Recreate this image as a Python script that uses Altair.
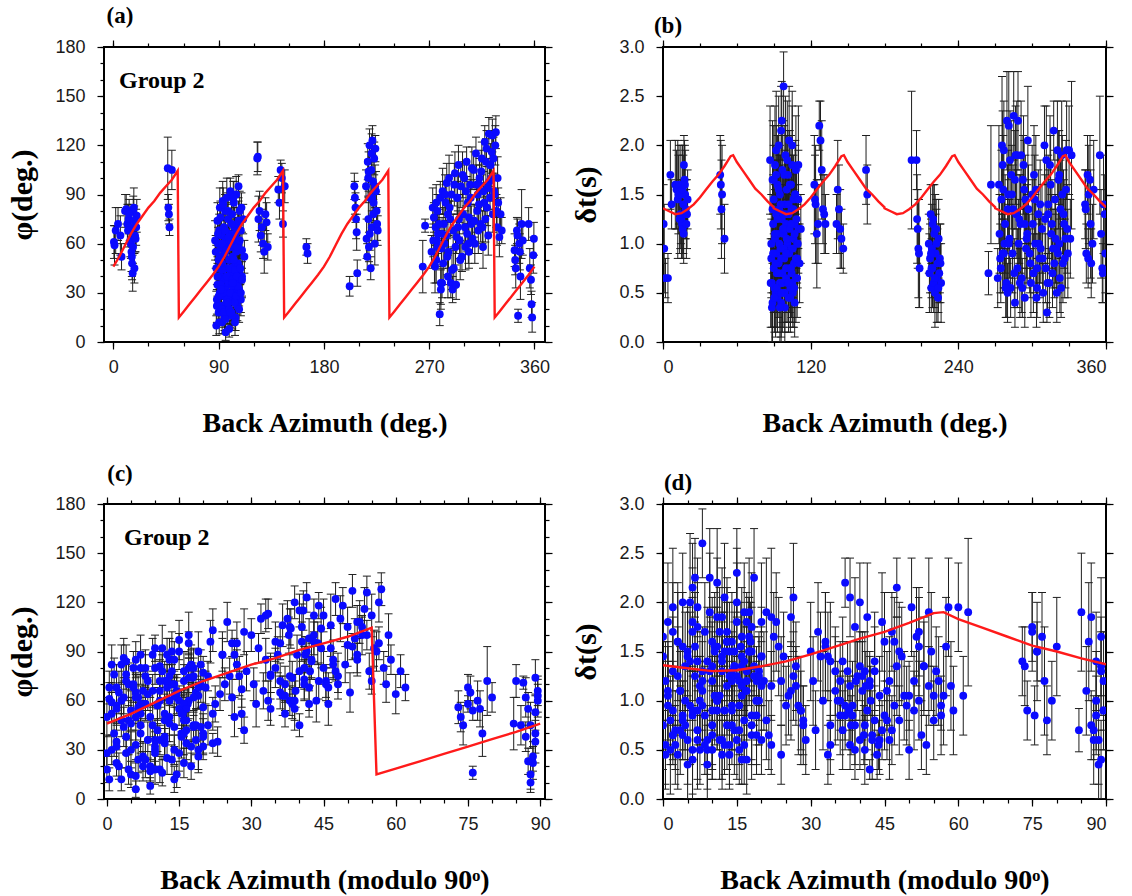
import altair as alt
import pandas as pd

# ---------------- measurements read from the figure ----------------
# back azimuth (deg), fast direction phi (deg) +/- error, delay time dt (s) +/- error
back_azimuth = [
    # 0-20
    0.5, 1, 2, 4, 6, 7, 10, 11, 12, 13,
    14, 14.5, 15, 15.5, 16, 16.5, 17, 17.5, 18, 18.5,
    19, 20, 12.5, 13.5, 15.8, 16.8, 17.8, 19.5,
    # 46-50
    46.5, 47, 47.5, 48, 50,
    # 87-112
    87, 87.5, 88, 88, 88.5, 89, 89, 89.5, 90, 90,
    90.5, 91, 91, 91.5, 92, 92, 92.5, 93, 93, 93.5,
    94, 94, 94.5, 95, 95, 95.5, 96, 96, 96.5, 97,
    97, 97.5, 98, 98, 98.5, 99, 99, 99.5, 100, 100,
    100.5, 101, 101, 101.5, 102, 102, 102.5, 103, 103, 103.5,
    104, 104, 104.5, 105, 105, 105.5, 106, 106, 106.5, 107,
    107, 107.5, 108, 108, 109, 109, 110, 110, 111, 112,
    88.5, 89, 89.5, 90, 90.5, 91, 91.5, 92, 92.5, 93,
    93.5, 94, 94.5, 95, 95.5, 96, 96.5, 97, 97.5, 98,
    98.5, 99, 99.5, 100, 100.5, 101, 101.5, 102, 102.5, 103,
    103.5, 104, 104.5, 105, 105.5, 106, 106.5, 107, 107.5, 108,
    108.5, 109, 109.5, 110, 104, 96, 92, 100, 98, 102,
    # 123-132
    123, 123.5, 124, 125, 126, 127, 128, 129, 130, 131,
    132,
    # 141-147
    141, 142, 143, 144, 145, 146.5,
    # 165
    165, 166,
    # 202-209
    202, 206, 206.5, 207, 207.5, 208, 208.5,
    # 216-226
    216, 216.5, 217, 217.5, 218, 218.5, 219, 219.5, 220, 220.5,
    221, 221.5, 222, 222.5, 223, 223.5, 224, 224.5, 225, 226,
    217.8, 219.2, 220.8, 222.2, 223.8, 225.5, 221.2, 218.2,
    # 264-267
    264.5, 266.5,
    # 272-332
    272, 273, 274, 275, 275.5, 276, 276.5, 277, 277.5, 278,
    279, 279.5, 280, 280.5, 281, 281.5, 282, 282.5, 283, 284,
    284.5, 285, 286, 286.5, 287, 288, 288.5, 289, 290, 290.5,
    291, 292, 292.5, 293, 294, 294.5, 295, 296, 297, 298,
    299, 300, 301, 302, 302.5, 303, 304, 305, 306, 307,
    308, 309, 310, 311, 311.5, 312, 313, 314, 315, 316,
    317, 317.5, 318, 319, 320, 320.5, 321, 322, 322.5, 323,
    324, 324.5, 325, 326, 327, 328, 329, 330, 331, 332,
    273.5, 274.5, 276, 278.5, 280, 281, 283.5, 285.5, 287.5, 289.5,
    291.5, 293.5, 295.5, 296.5, 298.5, 300.5, 301.5, 303.5, 305.5, 306.5,
    308.5, 310.5, 312.5, 314.5, 315.5, 316.5, 318.5, 319.5, 321.5, 323.5,
    325.5, 326.5, 327.5, 328.5, 277, 286, 294, 304, 313, 322,
    # 343-360
    343, 343.5, 344, 345, 345.5, 346, 347, 347.5, 348, 349,
    350, 355, 356, 357, 357.5, 358, 359, 359.5,
]

phi_deg = [
    61, 59, 68, 72, 65, 52, 80, 81, 72, 75,
    70, 62, 60, 55, 48, 42, 80, 82, 45, 65,
    63, 77, 68, 78, 52, 58, 74, 70,
    106, 82, 78, 70, 105,
    62, 55, 10, 45, 26, 74, 35, 60, 18, 50,
    68, 30, 82, 40, 22, 57, 65, 12, 48, 86,
    28, 38, 70, 15, 54, 80, 33, 62, 24, 45,
    88, 20, 58, 75, 36, 8, 50, 66, 28, 92,
    42, 18, 60, 78, 34, 52, 25, 85, 46, 70,
    30, 63, 15, 55, 90, 38, 72, 22, 48, 95,
    60, 32, 80, 44, 68, 26, 56, 40, 75, 52,
    22, 40, 66, 28, 12, 52, 76, 35, 20, 60,
    44, 84, 18, 30, 68, 14, 56, 40, 26, 80,
    64, 20, 45, 30, 58, 72, 16, 38, 88, 50,
    24, 44, 66, 28, 40, 58, 34, 74, 20, 62,
    45, 30, 82, 38, 12, 6, 32, 18, 24, 36,
    112, 113, 75, 80, 65, 70, 60, 55, 78, 73,
    58,
    93, 85, 105, 100, 72, 95,
    58, 54,
    34, 95, 88, 82, 75, 67, 42,
    95, 63, 52, 110, 75, 58, 120, 88, 45, 105,
    70, 123, 98, 85, 112, 60, 118, 92, 80, 68,
    100, 66, 115, 78, 95, 72, 88, 104,
    46, 71,
    55, 82, 76, 46, 70, 50, 62, 80, 66, 58,
    17, 88, 32, 57, 36, 92, 48, 72, 60, 85,
    65, 97, 40, 55, 100, 75, 36, 90, 32, 68,
    45, 103, 58, 35, 88, 70, 108, 62, 95, 52,
    78, 100, 58, 110, 66, 85, 55, 96, 72, 63,
    105, 60, 115, 80, 90, 68, 100, 72, 112, 58,
    85, 122, 75, 118, 94, 65, 127, 88, 108, 100,
    126, 78, 112, 90, 128, 70, 85, 64, 78, 68,
    62, 48, 85, 72, 36, 66, 90, 52, 82, 44,
    96, 64, 75, 50, 102, 70, 92, 60, 88, 106,
    74, 96, 84, 104, 70, 92, 110, 82, 98, 116,
    92, 120, 80, 100, 58, 78, 88, 76, 96, 108,
    56, 50, 45, 68, 65, 16, 60, 55, 40, 72,
    62, 72, 45, 38, 23, 15, 53, 63,
]

phi_err = [
    10, 12, 14, 10, 12, 8, 10, 9, 12, 9,
    8, 10, 9, 12, 10, 11, 9, 12, 9, 10,
    8, 10, 10, 9, 12, 10, 9, 11,
    19, 8, 6, 5, 12,
    12, 10, 6, 14, 9, 11, 13, 10, 8, 12,
    10, 9, 12, 14, 8, 11, 13, 7, 10, 12,
    9, 11, 13, 8, 12, 10, 9, 14, 8, 11,
    12, 9, 10, 13, 11, 5, 12, 10, 9, 8,
    13, 8, 11, 10, 9, 12, 10, 13, 11, 12,
    9, 12, 8, 10, 11, 13, 10, 9, 12, 7,
    11, 10, 12, 9, 13, 10, 11, 12, 9, 10,
    10, 12, 9, 11, 7, 13, 10, 12, 8, 11,
    12, 10, 9, 11, 13, 8, 10, 12, 9, 11,
    10, 9, 12, 11, 10, 13, 8, 12, 10, 11,
    9, 12, 10, 11, 13, 9, 10, 12, 8, 11,
    10, 12, 9, 11, 8, 5, 10, 9, 11, 12,
    10, 9, 14, 12, 10, 11, 9, 13, 10, 12,
    8,
    8, 10, 6, 9, 8, 10,
    5, 6,
    6, 8, 10, 9, 12, 11, 8,
    10, 12, 8, 11, 13, 9, 10, 12, 7, 14,
    10, 9, 12, 11, 10, 13, 8, 12, 10, 9,
    11, 10, 12, 9, 13, 10, 11, 12,
    16, 4,
    10, 12, 9, 16, 11, 14, 13, 10, 12, 9,
    7, 10, 12, 11, 9, 14, 13, 10, 12, 11,
    9, 12, 13, 10, 14, 11, 9, 12, 8, 10,
    12, 13, 11, 9, 14, 10, 12, 11, 13, 9,
    12, 10, 14, 9, 11, 13, 10, 12, 11, 9,
    11, 12, 10, 13, 9, 14, 12, 11, 10, 13,
    12, 10, 14, 11, 13, 12, 10, 11, 13, 12,
    10, 11, 13, 12, 10, 11, 9, 12, 10, 8,
    10, 12, 11, 9, 13, 10, 12, 11, 9, 12,
    13, 10, 11, 12, 14, 10, 9, 12, 11, 13,
    10, 12, 11, 13, 10, 12, 14, 11, 12, 13,
    11, 12, 10, 13, 11, 12, 10, 11, 12, 10,
    10, 9, 12, 8, 10, 4, 12, 11, 14, 21,
    9, 10, 12, 9, 8, 9, 11, 10,
]

delay_s = [
    1.2, 0.95, 0.65, 0.65, 1.7, 1.4, 1.6, 1.55, 1.45, 1.6,
    1.3, 1.5, 1.25, 1.2, 1.15, 1.4, 1.8, 1.65, 1.5, 1.35,
    1.2, 1.45, 1.5, 1.25, 1.55, 1.1, 1.6, 1.3,
    1.7, 1.6, 1.35, 1.5, 1.05,
    1.85, 0.6, 1.0, 0.85, 0.35, 1.65, 0.4, 1.2, 0.75, 1.45,
    0.55, 1.05, 1.8, 0.5, 0.9, 1.3, 0.7, 1.6, 0.45, 1.1,
    2.0, 0.8, 1.35, 0.6, 1.5, 0.95, 2.15, 0.4, 1.25, 0.7,
    1.75, 0.5, 1.1, 2.6, 0.85, 1.4, 0.35, 1.9, 0.65, 1.2,
    1.55, 0.9, 1.0, 1.7, 0.45, 1.3, 2.05, 0.75, 1.15, 0.55,
    1.6, 0.95, 1.35, 0.6, 1.8, 0.5, 1.05, 1.45, 0.8, 1.2,
    0.4, 1.5, 0.65, 1.75, 1.0, 0.85, 1.8, 1.15, 0.8, 1.15,
    0.6, 1.35, 0.9, 1.65, 0.45, 1.1, 0.8, 1.95, 0.55, 1.25,
    0.7, 1.55, 1.0, 0.35, 1.4, 0.85, 2.25, 0.6, 1.15, 0.95,
    1.7, 0.5, 1.3, 0.75, 1.05, 1.85, 0.6, 1.4, 0.9, 1.6,
    0.45, 1.2, 0.7, 2.0, 0.95, 1.35, 0.55, 1.1, 1.5, 0.85,
    1.25, 0.65, 1.0, 1.45, 0.75, 0.5, 1.7, 0.9, 1.3, 0.6,
    1.6, 1.45, 1.4, 1.1, 1.2, 2.2, 2.05, 1.75, 1.35, 1.3,
    1.2,
    1.2, 1.55, 1.35, 1.15, 1.05, 0.95,
    1.75, 1.5,
    1.85, 1.85, 1.25, 1.15, 0.95, 0.9, 0.75,
    1.0, 0.7, 0.85, 1.3, 0.55, 0.95, 0.75, 1.25, 0.6, 1.1,
    0.5, 0.9, 1.15, 0.65, 0.8, 0.45, 1.05, 0.7, 0.85, 0.6,
    0.9, 1.2, 0.65, 1.0, 0.55, 0.8, 1.15, 0.75,
    0.7, 1.6,
    0.65, 1.6, 0.85, 1.45, 2.0, 0.9, 1.55, 1.95, 1.0, 1.2,
    0.6, 2.25, 0.5, 1.5, 2.2, 1.05, 1.85, 0.55, 1.7, 0.9,
    1.35, 2.3, 0.4, 1.9, 1.3, 0.75, 2.25, 1.0, 0.6, 1.2,
    1.9, 0.55, 1.65, 1.8, 0.45, 1.45, 0.95, 1.1, 1.35, 0.9,
    0.6, 1.5, 0.7, 1.45, 1.0, 1.55, 0.55, 1.3, 0.85, 0.95,
    1.15, 0.5, 2.0, 0.75, 1.85, 0.3, 1.4, 0.6, 1.6, 1.2,
    0.95, 2.15, 0.8, 1.05, 0.5, 1.95, 0.9, 1.7, 0.65, 1.35,
    1.9, 1.5, 0.8, 1.2, 1.05, 1.95, 0.9, 1.95, 1.05, 1.9,
    1.1, 0.75, 1.8, 0.55, 1.35, 1.0, 1.5, 0.7, 1.9, 1.25,
    0.65, 1.55, 1.05, 2.05, 0.8, 1.2, 1.7, 0.45, 1.0, 1.4,
    0.85, 1.25, 0.6, 1.8, 1.1, 0.7, 1.45, 0.95, 1.65, 0.55,
    1.3, 0.85, 1.55, 1.15, 0.9, 1.65, 1.2, 0.75, 1.3, 1.0,
    1.4, 1.35, 0.9, 1.7, 0.85, 1.5, 1.65, 1.2, 0.8, 1.0,
    1.55, 1.9, 1.1, 0.75, 0.7, 1.4, 1.3, 0.9,
]

delay_err = [
    0.4, 0.45, 0.2, 0.25, 0.35, 0.25, 0.45, 0.4, 0.6, 0.4,
    0.35, 0.5, 0.4, 0.3, 0.3, 0.5, 0.3, 0.4, 0.45, 0.3,
    0.35, 0.3, 0.4, 0.35, 0.45, 0.3, 0.4, 0.35,
    0.4, 0.45, 0.5, 0.5, 0.35,
    0.55, 0.45, 0.5, 0.4, 0.35, 0.6, 0.4, 0.5, 0.45, 0.55,
    0.4, 0.5, 0.6, 0.45, 0.5, 0.55, 0.4, 0.5, 0.35, 0.45,
    0.5, 0.4, 0.55, 0.45, 0.5, 0.6, 0.45, 0.4, 0.55, 0.5,
    0.45, 0.35, 0.5, 0.35, 0.5, 0.55, 0.4, 0.6, 0.45, 0.5,
    0.55, 0.4, 0.5, 0.45, 0.35, 0.5, 0.55, 0.45, 0.5, 0.4,
    0.5, 0.45, 0.55, 0.4, 0.6, 0.35, 0.5, 0.45, 0.4, 0.55,
    0.35, 0.5, 0.45, 0.55, 0.4, 0.5, 0.6, 0.45, 0.4, 0.35,
    0.45, 0.5, 0.4, 0.55, 0.35, 0.5, 0.45, 0.6, 0.4, 0.5,
    0.45, 0.55, 0.5, 0.35, 0.5, 0.45, 0.4, 0.5, 0.55, 0.45,
    0.5, 0.4, 0.55, 0.45, 0.5, 0.6, 0.4, 0.5, 0.45, 0.55,
    0.35, 0.5, 0.45, 0.55, 0.5, 0.45, 0.4, 0.5, 0.55, 0.45,
    0.5, 0.4, 0.45, 0.5, 0.4, 0.45, 0.5, 0.55, 0.45, 0.4,
    0.5, 0.45, 0.6, 0.55, 0.4, 0.25, 0.4, 0.5, 0.35, 0.4,
    0.3,
    0.3, 0.5, 0.45, 0.4, 0.3, 0.25,
    0.35, 0.3,
    0.7, 0.3, 0.45, 0.4, 0.5, 0.55, 0.4,
    0.3, 0.4, 0.35, 0.3, 0.25, 0.45, 0.4, 0.35, 0.3, 0.5,
    0.35, 0.4, 0.3, 0.45, 0.35, 0.25, 0.4, 0.3, 0.35, 0.4,
    0.35, 0.4, 0.3, 0.35, 0.25, 0.4, 0.35, 0.3,
    0.22, 0.6,
    0.3, 0.6, 0.35, 0.5, 0.7, 0.4, 0.55, 0.5, 0.45, 0.5,
    0.35, 0.5, 0.3, 0.45, 0.55, 0.4, 0.5, 0.3, 0.55, 0.4,
    0.45, 0.45, 0.25, 0.5, 0.45, 0.4, 0.5, 0.45, 0.35, 0.5,
    0.55, 0.3, 0.45, 0.5, 0.3, 0.45, 0.4, 0.5, 0.45, 0.4,
    0.35, 0.5, 0.4, 0.45, 0.5, 0.55, 0.3, 0.45, 0.4, 0.35,
    0.45, 0.3, 0.4, 0.35, 0.55, 0.1, 0.5, 0.35, 0.5, 0.45,
    0.4, 0.3, 0.35, 0.45, 0.3, 0.5, 0.4, 0.45, 0.35, 0.5,
    0.55, 0.6, 0.4, 0.45, 0.5, 0.5, 0.45, 0.45, 0.4, 0.75,
    0.4, 0.35, 0.55, 0.3, 0.45, 0.4, 0.5, 0.35, 0.55, 0.45,
    0.35, 0.5, 0.4, 0.55, 0.35, 0.45, 0.5, 0.3, 0.4, 0.45,
    0.35, 0.45, 0.3, 0.5, 0.4, 0.35, 0.5, 0.4, 0.5, 0.3,
    0.45, 0.4, 0.5, 0.45, 0.35, 0.5, 0.45, 0.35, 0.45, 0.4,
    0.35, 0.4, 0.3, 0.4, 0.3, 0.5, 0.45, 0.55, 0.35, 0.4,
    0.5, 0.6, 0.45, 0.35, 0.3, 0.5, 0.4, 0.4,
]

# two-layer model prediction over one 90-degree period
model_baz_phi = [0, 5, 10, 15, 20, 25, 30, 35, 40, 45, 50, 55, 56, 60, 65, 70, 75, 80, 85, 90]
model_phi = [46, 52, 59, 66, 72, 77, 82, 86, 91, 95, 99, 104.5, 15, 18.5, 23, 27.5, 32, 36.5, 41, 46]
model_baz_dt = [0, 5, 10, 15, 20, 25, 30, 35, 40, 45, 50, 55, 57, 60, 65, 70, 75, 80, 85, 90]
model_dt = [1.36, 1.33, 1.30, 1.31, 1.35, 1.40, 1.47, 1.55, 1.63, 1.70, 1.79, 1.89, 1.90, 1.83, 1.74, 1.65, 1.56, 1.50, 1.43, 1.37]
period_offsets = [0, 90, 180, 270]

n = len(back_azimuth)
assert all(len(a) == n for a in (phi_deg, phi_err, delay_s, delay_err))

df = pd.DataFrame({
    "baz": back_azimuth, "phi": phi_deg, "phi_err": phi_err,
    "dt": delay_s, "dt_err": delay_err,
})
df["bmod"] = df["baz"] % 90

phi_one = pd.DataFrame({"x": model_baz_phi, "y": model_phi})
dt_one = pd.DataFrame({"x": model_baz_dt, "y": model_dt})
phi_full = pd.concat([phi_one.assign(x=phi_one.x + o) for o in period_offsets], ignore_index=True)
dt_full = pd.concat([dt_one.assign(x=dt_one.x + o) for o in period_offsets], ignore_index=True)

SERIF = "Liberation Serif"
SANS = "Liberation Sans"
MAJ, MINL = 7, 4
BAR = "#1e1e1e"


def ax(**kw):
    base = dict(grid=False, domain=False, tickColor="black", tickWidth=1.2,
                labelFont=SANS, labelFontSize=18, labelColor="#1a1a1a",
                titleFont=SERIF, titleFontWeight="bold", titleColor="black",
                labelOverlap=False)
    base.update(kw)
    return alt.Axis(**base)


def panel(tag, xf, yf, ef, xdom, ydom, xmaj, xmin, ymaj, ymin, yfmt, xtitle, ytitle,
          model, w, h, tag_pos, ytp, group=None):
    xs = alt.Scale(domain=xdom, nice=False, zero=False)
    ys = alt.Scale(domain=ydom, nice=False, zero=False)
    calc = alt.Chart(df).transform_calculate(
        lo=f"datum.{yf} - datum.{ef}", hi=f"datum.{yf} + datum.{ef}")

    ax_b = ax(orient="bottom", values=xmaj, tickSize=MAJ, labelPadding=9,
              format="d", title=xtitle, titlePadding=33, titleFontSize=28)
    ax_bm = ax(orient="bottom", values=xmin, tickSize=MINL, labels=False, title=None)
    ax_t = ax(orient="top", values=xmaj, tickSize=MAJ, labels=False, title=None)
    ax_tm = ax(orient="top", values=xmin, tickSize=MINL, labels=False, title=None)
    ax_l = ax(orient="left", values=ymaj, tickSize=MAJ, labelPadding=12,
              format=yfmt, title=ytitle, titlePadding=ytp, titleFontSize=30)
    ax_lm = ax(orient="left", values=ymin, tickSize=MINL, labels=False, title=None)
    ax_r = ax(orient="right", values=ymaj, tickSize=MAJ, labels=False, title=None)
    ax_rm = ax(orient="right", values=ymin, tickSize=MINL, labels=False, title=None)

    bars = calc.mark_rule(color=BAR, strokeWidth=1, clip=True).encode(
        x=alt.X(f"{xf}:Q", scale=xs, axis=ax_b),
        y=alt.Y("lo:Q", scale=ys, axis=ax_l),
        y2="hi:Q",
    )
    cap_lo = calc.mark_tick(orient="horizontal", size=8, thickness=1, color=BAR,
                            opacity=1, clip=True).encode(
        x=alt.X(f"{xf}:Q", scale=xs, axis=ax_bm),
        y=alt.Y("lo:Q", scale=ys, axis=ax_lm),
    )
    cap_hi = calc.mark_tick(orient="horizontal", size=8, thickness=1, color=BAR,
                            opacity=1, clip=True).encode(
        x=alt.X(f"{xf}:Q", scale=xs, axis=ax_t),
        y=alt.Y("hi:Q", scale=ys, axis=ax_r),
    )
    pts = alt.Chart(df).mark_circle(size=62, color="#0a0aff", opacity=1, clip=True).encode(
        x=alt.X(f"{xf}:Q", scale=xs, axis=ax_tm),
        y=alt.Y(f"{yf}:Q", scale=ys, axis=ax_rm),
    )
    line = alt.Chart(model).mark_line(color="#ff1a1a", strokeWidth=2.4, clip=True).encode(
        x=alt.X("x:Q", scale=xs, axis=None),
        y=alt.Y("y:Q", scale=ys, axis=None),
        order="x:Q",
    )
    lab = alt.Chart(pd.DataFrame({"t": [tag]})).mark_text(
        font=SERIF, fontWeight="bold", fontSize=23, color="black", align="center",
        baseline="middle").encode(
        x=alt.value(tag_pos[0]), y=alt.value(tag_pos[1]), text="t:N")
    layers = [bars, cap_lo, cap_hi, pts, line, lab]
    if group is not None:
        g = alt.Chart(pd.DataFrame({"t": ["Group 2"]})).mark_text(
            font=SERIF, fontWeight="bold", fontSize=24, color="black", align="left",
            baseline="alphabetic").encode(
            x=alt.value(group[0]), y=alt.value(group[1]), text="t:N")
        layers.append(g)
    return alt.layer(*layers).properties(width=w, height=h).resolve_axis(
        x="independent", y="independent")


x360_maj_a = [0, 90, 180, 270, 360]
x360_min = list(range(0, 361, 30))
x360_maj_b = [0, 120, 240, 360]
x90_maj = [0, 15, 30, 45, 60, 75, 90]
x90_min = list(range(0, 91, 5))
phi_maj = [0, 30, 60, 90, 120, 150, 180]
phi_min = list(range(0, 181, 10))
dt_maj = [0, 0.5, 1.0, 1.5, 2.0, 2.5, 3.0]

pa = panel("(a)", "baz", "phi", "phi_err", [-8, 369], [0, 180], x360_maj_a, x360_min,
           phi_maj, phi_min, "d", "Back Azimuth (deg.)", "φ(deg.)", phi_full,
           441, 295, (16, -31), 17, group=(15, 41))
pb = panel("(b)", "baz", "dt", "dt_err", [0, 360], [0, 3], x360_maj_b, x360_min,
           dt_maj, dt_maj, ".1f", "Back Azimuth (deg.)", "δt(s)", dt_full,
           443, 295, (5, -21), 17)
pc = panel("(c)", "bmod", "phi", "phi_err", [-0.6, 91], [0, 180], x90_maj, x90_min,
           phi_maj, phi_min, "d", "Back Azimuth (modulo 90ᵒ)", "φ(deg.)", phi_one,
           441, 295, (16, -30), 17, group=(20, 41))
pd_ = panel("(d)", "bmod", "dt", "dt_err", [0, 90], [0, 3], x90_maj, x90_min,
            dt_maj, dt_maj, ".1f", "Back Azimuth (modulo 90ᵒ)", "δt(s)", dt_one,
            443, 295, (15, -21), 17)

chart = alt.concat(pa, pb, pc, pd_, columns=2, spacing={"row": 162, "column": 118},
                   bounds="flush").properties(
    padding={"left": 6, "top": 4, "right": 5, "bottom": 5},
    background="white",
).configure_view(stroke="black", strokeWidth=2)

chart.save("out.html", embed_options={"renderer": "svg", "actions": False})
